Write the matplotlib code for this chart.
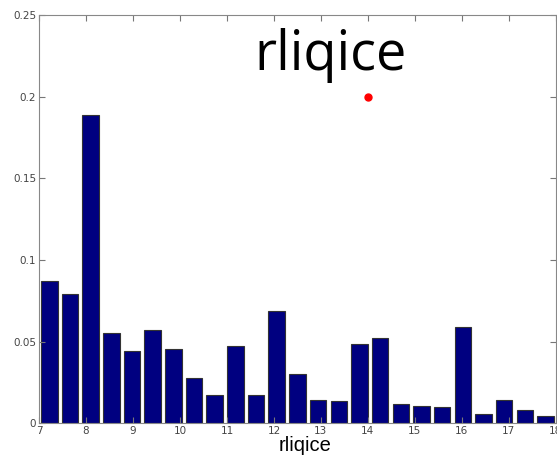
import numpy as np
import matplotlib.pyplot as plt

# histogram bins (25 bins between 7 and 18) and relative frequencies
bin_edges = np.linspace(7, 18, 26)
freq = [0.0872, 0.0789, 0.189, 0.0553, 0.0445, 0.0568, 0.0455, 0.0278, 0.0172,
        0.0472, 0.0172, 0.0690, 0.0304, 0.0143, 0.0133, 0.0484, 0.0523, 0.0118,
        0.0106, 0.0100, 0.0592, 0.0057, 0.0141, 0.0078, 0.0047]
point_x = [14]
point_y = [0.2]
x_ticks = list(range(7, 19))
y_ticks = [0, 0.05, 0.1, 0.15, 0.2, 0.25]
y_labels = ['0', '0.05', '0.1', '0.15', '0.2', '0.25']

centers = (bin_edges[:-1] + bin_edges[1:]) / 2
width = (bin_edges[1] - bin_edges[0]) * 0.8

fig = plt.figure(figsize=(5.57, 4.59), dpi=100)
ax = fig.add_axes([0.070, 0.078, 0.928, 0.889])

ax.bar(centers, freq, width=width, color='#000080', edgecolor='#333333', linewidth=0.8)
ax.plot(point_x, point_y, 'o', color='red', markersize=5)

ax.set_xlim(7, 18)
ax.set_ylim(0, 0.25)
ax.set_xticks(x_ticks)
ax.set_yticks(y_ticks)
ax.set_yticklabels(y_labels)
# MATLAB-Stil: Ticks nach innen, auf allen Seiten
ax.tick_params(direction='in', top=True, right=True, labelsize=7.5,
               labelcolor='#444444', color='#777777', length=4, pad=2)
for s in ax.spines.values():
    s.set_color('#888888')

ax.set_xlabel('rliqice', fontsize=14.5, family='Liberation Sans', labelpad=0)
ax.xaxis.label.set_position((0.514, 0))

# grosse Beschriftung oben im Diagramm
fig.text(0.593, 0.847, 'rliqice', fontsize=39, family='Open Sans',
         ha='center', va='baseline')

fig.savefig('out.png', dpi=100)
